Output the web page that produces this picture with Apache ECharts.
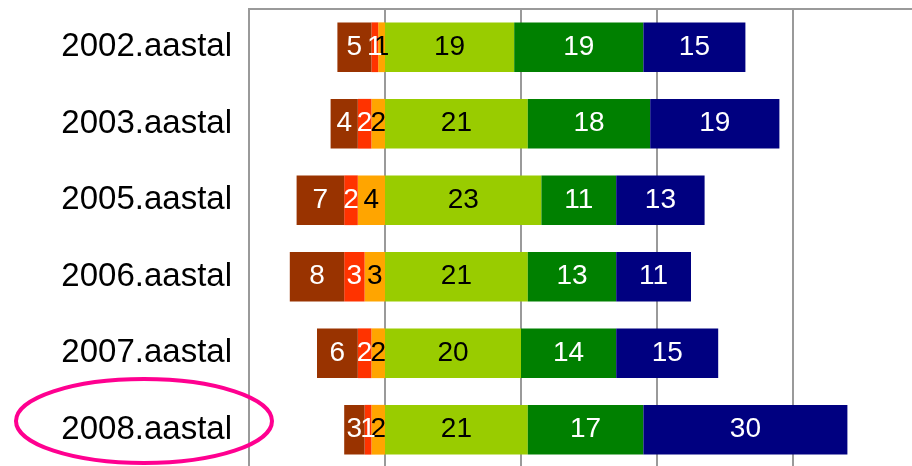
<!DOCTYPE html>
<html>
<head>
<meta charset="utf-8">
<script src="https://cdn.jsdelivr.net/npm/echarts@6/dist/echarts.min.js"></script>
<style>
  html, body { margin: 0; padding: 0; background: #fff; }
  #chart { width: 912px; height: 466px; }
</style>
</head>
<body>
<div id="chart"></div>
<script>
// aastad (ylevalt alla)
var years = ["2002.aastal", "2003.aastal", "2005.aastal", "2006.aastal", "2007.aastal", "2008.aastal"];
// negatiivne pool (nullist vasakule)
var orangeVals = [1, 2, 4, 3, 2, 2];
var redVals = [1, 2, 2, 3, 2, 1];
var brownVals = [5, 4, 7, 8, 6, 3];
// positiivne pool
var lightGreenVals = [19, 21, 23, 21, 20, 21];
var greenVals = [19, 18, 11, 13, 14, 17];
var navyVals = [15, 19, 13, 11, 15, 30];

function neg(arr) {
  return arr.map(function (v) { return -v; });
}

function makeSeries(name, data, color, textColor) {
  return {
    name: name,
    type: "bar",
    stack: "total",
    barCategoryGap: "35%",
    data: data,
    itemStyle: { color: color },
    label: {
      show: true,
      position: "inside",
      color: textColor,
      fontSize: 28,
      fontFamily: "Liberation Sans, Arial, sans-serif",
      formatter: function (p) { return Math.abs(p.value); }
    }
  };
}

var chart = echarts.init(document.getElementById("chart"));
chart.setOption({
  animation: false,
  grid: {
    show: true,
    left: 249,
    top: 9,
    width: 680,
    height: 459,
    outerBoundsMode: "none",
    containLabel: false,
    borderColor: "#9a9a9a",
    borderWidth: 2
  },
  xAxis: {
    type: "value",
    min: -20,
    max: 80,
    interval: 20,
    axisLabel: { show: false },
    axisLine: { show: false },
    axisTick: { show: false },
    splitLine: { show: true, lineStyle: { color: "#9a9a9a", width: 2 } }
  },
  yAxis: {
    type: "category",
    data: years,
    inverse: true,
    axisLine: { show: false },
    axisTick: { show: false },
    axisLabel: {
      color: "#000",
      fontSize: 33,
      margin: 17,
      fontFamily: "Liberation Sans, Arial, sans-serif"
    }
  },
  series: [
    makeSeries("orange", neg(orangeVals), "#ffa500", "#000"),
    makeSeries("red", neg(redVals), "#ff3300", "#fff"),
    makeSeries("brown", neg(brownVals), "#993300", "#fff"),
    makeSeries("lightgreen", lightGreenVals, "#99cc00", "#000"),
    makeSeries("green", greenVals, "#008000", "#fff"),
    makeSeries("navy", navyVals, "#000080", "#fff")
  ],
  graphic: [{
    type: "ellipse",
    shape: { cx: 144, cy: 421, rx: 128, ry: 42 },
    style: { fill: null, stroke: "#ff0090", lineWidth: 4 },
    z: 100
  }]
});
</script>
</body>
</html>
